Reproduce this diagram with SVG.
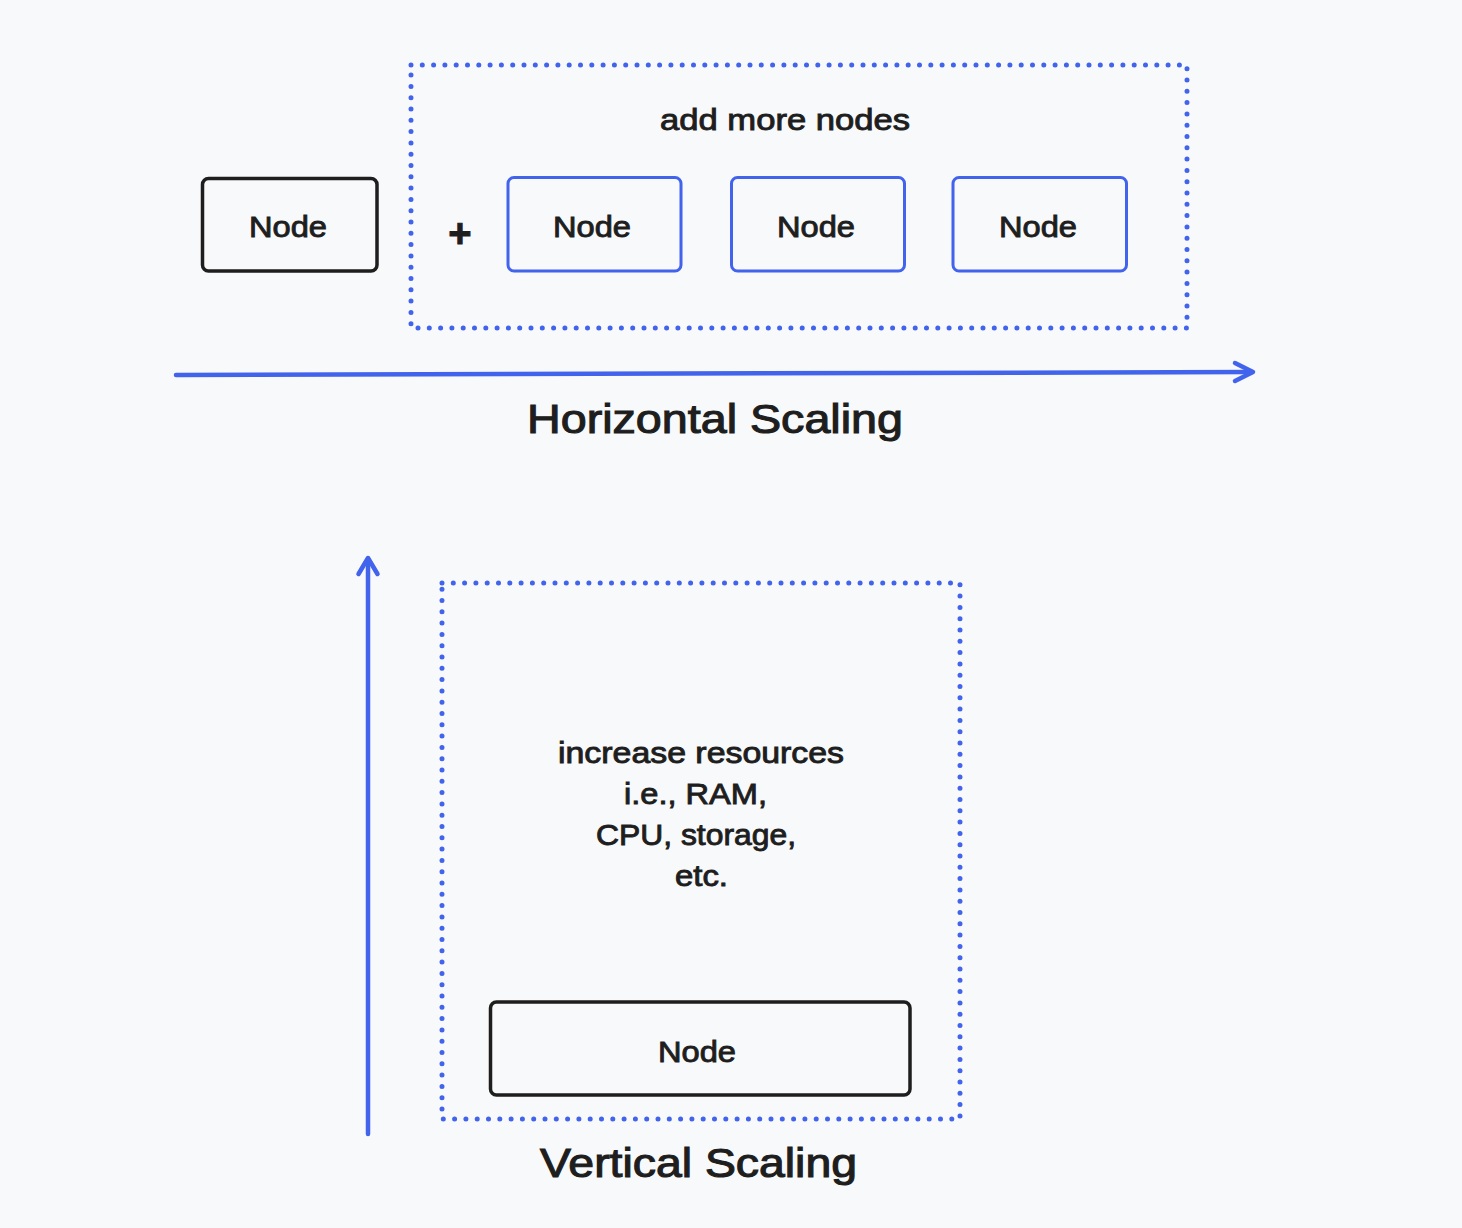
<svg xmlns="http://www.w3.org/2000/svg" width="1462" height="1228" viewBox="0 0 1462 1228">
  <style>
    .bg { fill: #f8f9fb; }
    .node-black { fill: none; stroke: #1e1e1e; stroke-width: 3.5; }
    .node-blue { fill: none; stroke: #4263eb; stroke-width: 3; }
    .dotted { fill: none; stroke: #4263eb; stroke-width: 5; stroke-linecap: round; stroke-dasharray: 0 11.3; }
    .conn { fill: none; stroke: #4263eb; stroke-width: 4.5; stroke-linecap: round; stroke-linejoin: round; }
    text { font-family: "Liberation Sans", Arial, sans-serif; fill: #1e1e1e; stroke: #1e1e1e; stroke-width: 0.9; text-anchor: middle; }
    .lbl { font-size: 29px; }
    .title { font-size: 40px; stroke-width: 1.1; }
  </style>
  <rect class="bg" x="0" y="0" width="1462" height="1228"/>

  <g id="group-horizontal">
    <rect class="dotted" x="411" y="65" width="776" height="263"/>
    <text class="lbl" x="785" y="130" textLength="250" lengthAdjust="spacingAndGlyphs">add more nodes</text>
  </g>

  <g id="node-original">
    <rect class="node-black" x="202.5" y="178.5" width="174.5" height="92.5" rx="6"/>
    <text class="lbl" x="288" y="237" textLength="78" lengthAdjust="spacingAndGlyphs">Node</text>
  </g>

  <g id="plus">
    <text x="460" y="247" font-size="40" font-weight="bold" stroke-width="0.8">+</text>
  </g>

  <g id="node-1">
    <rect class="node-blue" x="508" y="177.5" width="173" height="93.5" rx="6"/>
    <text class="lbl" x="592" y="237" textLength="78" lengthAdjust="spacingAndGlyphs">Node</text>
  </g>
  <g id="node-2">
    <rect class="node-blue" x="731.5" y="177.5" width="173" height="93.5" rx="6"/>
    <text class="lbl" x="816" y="237" textLength="78" lengthAdjust="spacingAndGlyphs">Node</text>
  </g>
  <g id="node-3">
    <rect class="node-blue" x="953" y="177.5" width="173.5" height="93.5" rx="6"/>
    <text class="lbl" x="1038" y="237" textLength="78" lengthAdjust="spacingAndGlyphs">Node</text>
  </g>

  <g id="label-horizontal">
    <text class="title" x="715" y="433" textLength="376" lengthAdjust="spacingAndGlyphs">Horizontal Scaling</text>
  </g>

  <g id="group-vertical">
    <rect class="dotted" x="442" y="583" width="518" height="536"/>
    <text class="lbl" x="701" y="763" textLength="286" lengthAdjust="spacingAndGlyphs">increase resources</text>
    <text class="lbl" x="695.5" y="804" textLength="143" lengthAdjust="spacingAndGlyphs">i.e., RAM,</text>
    <text class="lbl" x="696" y="845" textLength="200" lengthAdjust="spacingAndGlyphs">CPU, storage,</text>
    <text class="lbl" x="701.5" y="886" textLength="53" lengthAdjust="spacingAndGlyphs">etc.</text>
  </g>

  <g id="node-vertical">
    <rect class="node-black" x="490.5" y="1002" width="419.5" height="93" rx="6"/>
    <text class="lbl" x="697" y="1062" textLength="78" lengthAdjust="spacingAndGlyphs">Node</text>
  </g>

  <g id="label-vertical">
    <text class="title" x="698.5" y="1177" textLength="317" lengthAdjust="spacingAndGlyphs">Vertical Scaling</text>
  </g>

  <g id="connectors">
    <path class="conn" d="M176 375 L1252 372"/>
    <path class="conn" d="M1235 363 L1253 372 L1235 381"/>
    <path class="conn" d="M368 1134 L368 560"/>
    <path class="conn" d="M358.5 574 L368 558 L377.5 574"/>
  </g>
</svg>
